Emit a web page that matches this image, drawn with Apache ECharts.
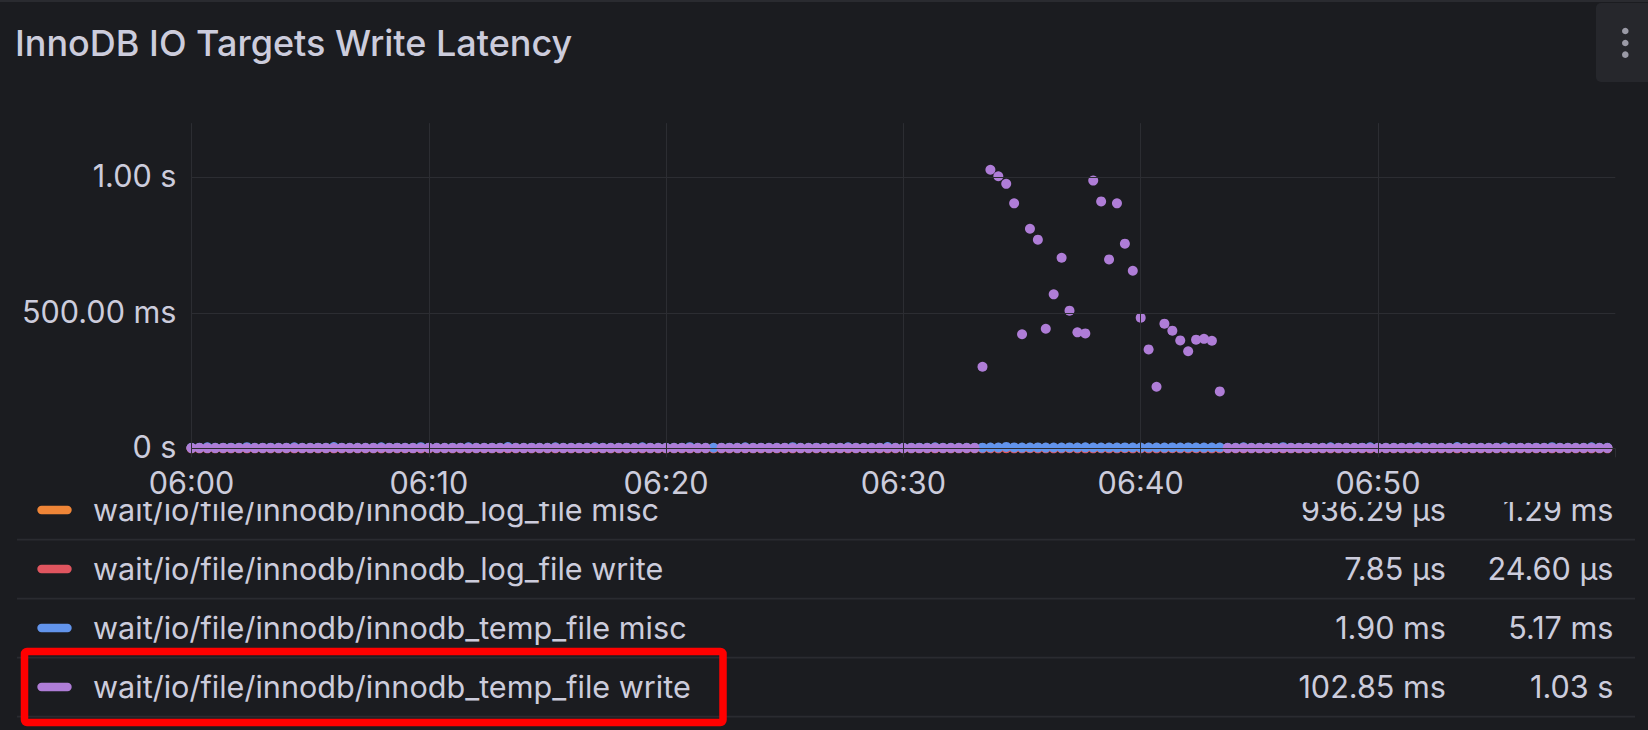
<!DOCTYPE html>
<html><head><meta charset="utf-8">
<script src="https://cdn.jsdelivr.net/npm/echarts@6/dist/echarts.min.js"></script>
<style>html,body{margin:0;padding:0;background:#1b1c20;}#chart{width:1648px;height:730px;}</style>
</head><body><div id="chart"></div>
<script>
// ---- axis / category data ----
const stepSeconds = 20;                 // sampling step of the series (06:00:00 start)
const xTickMinutes = [0, 10, 20, 30, 40, 50];
const xTickLabels = ['06:00', '06:10', '06:20', '06:30', '06:40', '06:50'];
const yTickValues = [0, 0.5, 1];
const yTickLabels = ['0 s', '500.00 ms', '1.00 s'];

// ---- legend ----
const seriesNames = [
  'wait/io/file/innodb/innodb_log_file misc',
  'wait/io/file/innodb/innodb_log_file write',
  'wait/io/file/innodb/innodb_temp_file misc',
  'wait/io/file/innodb/innodb_temp_file write'
];
const seriesColors = ['#ef8537', '#e0555f', '#6294ec', '#af7dd7'];
const legendMeans = ['936.29 µs', '7.85 µs', '1.90 ms', '102.85 ms'];
const legendMaxes = ['1.29 ms', '24.60 µs', '5.17 ms', '1.03 s'];

// ---- series values (one value per 20 s sample) ----
const logFileMiscUs = [
920,880,950,905,870,940,915,890,960,900,
875,930,910,885,945,900,865,935,920,895,
950,905,880,925,940,870,915,900,955,890,
910,935,875,920,900,945,885,930,905,870,
940,915,890,960,900,875,930,910,885,945,
900,865,935,920,895,950,905,880,925,940,
870,915,900,955,890,910,935,875,920,900,
945,885,930,905,870,940,915,890,960,900,
875,930,910,885,945,900,865,935,920,895,
950,905,880,925,940,870,915,900,955,890,
1120,1250,1180,1290,1210,1150,1230,1170,1260,1190,
1140,1220,1200,1160,1240,1185,1130,1215,1175,1255,
1195,1145,1225,1165,1205,1235,1155,1245,1190,1170,
1210,
910,935,875,920,900,945,885,930,905,870,
940,915,890,960,900,875,930,910,885,945,
900,865,935,920,895,950,905,880,925,940,
870,915,900,955,890,910,935,875,920,900,
945,885,930,905,870,940,915,890,960
];
const logFileWriteUs = [
7,6,9,8,5,7,10,6,8,7,
9,6,7,8,11,5,7,9,6,8,
7,10,6,8,7,9,5,8,7,6,
8,7,12,6,9,7,8,5,7,10,
6,8,9,7,6,8,7,11,6,7,
8,9,6,7,10,5,8,7,9,6,
7,8,6,9,7,12,6,8,7,9,
5,7,8,10,6,7,9,8,6,7,
8,6,9,7,11,6,8,7,9,5,
7,8,6,10,7,9,6,8,7,8,
14,18,12,24.6,16,11,19,13,15,17,
12,20,14,16,11,18,13,15,19,12,
16,14,17,13,21,15,12,18,14,16,
13,
7,8,6,9,7,10,6,8,7,9,
5,7,8,6,11,7,9,6,8,7,
10,6,8,7,9,5,7,8,6,9,
7,12,6,8,7,9,6,7,8,10,
6,7,9,8,5,7,8,6,9
];
const tempFileMiscMs = [
1.8,2.1,3.6,1.7,1.9,2.4,1.6,4.1,2.0,1.8,
2.2,1.7,1.9,3.8,2.0,1.6,2.3,1.8,4.4,1.9,
1.7,2.1,2.0,1.8,3.9,1.6,2.2,1.9,1.7,4.2,
2.0,1.8,1.6,2.3,1.9,3.7,1.8,2.1,1.7,2.0,
4.5,1.9,1.6,2.2,1.8,2.0,3.6,1.7,1.9,2.1,
1.8,4.0,1.6,2.0,1.9,2.2,1.7,3.8,1.8,2.0,
1.9,1.7,2.1,4.3,1.8,1.6,2.0,1.9,2.2,1.7,
3.9,1.8,2.0,1.6,2.1,1.9,4.1,1.7,1.8,2.2,
1.9,2.0,1.6,3.7,1.8,2.1,1.7,1.9,4.6,2.0,
1.8,1.6,2.2,1.9,3.8,1.7,2.0,1.8,2.1,1.9,
2.4,3.1,2.8,5.17,3.3,2.6,2.9,3.4,2.7,3.0,
2.5,3.2,2.8,3.6,2.9,2.6,3.1,2.7,3.3,2.8,
2.6,3.0,2.9,2.5,3.2,2.7,3.4,2.8,2.6,3.0,
2.9,
1.8,2.0,3.9,1.7,1.9,2.1,1.6,4.2,1.8,2.0,
2.2,1.7,1.9,3.6,2.0,1.8,1.6,2.3,4.0,1.9,
1.7,2.1,1.8,2.0,3.8,1.6,2.2,1.9,1.7,4.4,
2.0,1.8,1.9,2.1,1.7,3.7,1.8,2.0,1.6,2.2,
1.9,4.1,1.7,1.8,2.0,1.9,3.9,1.8,2.1
];
const tempFileWriteMs = [
1.1,1.3,0.9,1.2,1.4,1.0,1.2,1.1,0.8,1.3,
1.2,1.0,1.5,1.1,0.9,1.2,1.3,1.0,1.1,1.4,
1.2,0.9,1.1,1.3,1.0,1.2,1.5,1.1,0.9,1.2,
1.3,1.1,1.0,1.2,1.4,0.9,1.1,1.2,1.3,1.0,
1.2,1.1,0.9,1.4,1.2,1.0,1.3,1.1,1.2,0.9,
1.1,1.3,1.0,1.2,1.4,1.1,0.9,1.2,1.3,1.0,
1.2,1.1,1.4,0.9,1.2,1.0,null,1.3,1.1,1.2,
0.9,1.2,1.4,1.0,1.1,1.3,1.2,0.9,1.1,1.2,
1.3,1.0,1.2,1.4,1.1,0.9,1.2,1.3,1.0,1.1,
1.2,1.4,0.9,1.1,1.3,1.2,1.0,1.2,1.1,1.3,
301,1028,1004,976,904,421,810,770,441,568,
703,508,428,424,988,911,697,904,755,655,
482,365,227,460,434,398,358,401,404,397,
210,
1.2,1.0,1.3,1.1,0.9,1.2,1.4,1.1,1.0,1.2,
1.3,0.9,1.1,1.2,1.4,1.0,1.1,1.3,1.2,0.9,
1.2,1.1,1.3,1.0,1.2,1.4,0.9,1.1,1.2,1.3,
1.0,1.2,1.1,0.9,1.3,1.2,1.0,1.4,1.1,1.2,
0.9,1.3,1.1,1.0,1.2,1.1,1.3,1.2,1.0
];

// ---- build ----
const TEXT = '#ccccdc';
const GRID = '#2c2d32';
const FONT = 'Inter, "Noto Sans", sans-serif';
const LABEL_SIZE = 30.6;

function toPoints(arr, toSeconds) {
  const pts = [];
  arr.forEach((v, i) => { if (v !== null) pts.push([i * stepSeconds / 60, v * toSeconds]); });
  return pts;
}
const seriesValues = [
  toPoints(logFileMiscUs, 1e-6),
  toPoints(logFileWriteUs, 1e-6),
  toPoints(tempFileMiscMs, 1e-3),
  toPoints(tempFileWriteMs, 1e-3)
];

const chart = echarts.init(document.getElementById('chart'), null, {renderer: 'svg'});

const graphics = [];
// panel top border
graphics.push({type: 'rect', shape: {x: 0, y: 0, width: 1648, height: 2}, style: {fill: '#2a2b30'}, silent: true});
// menu button
graphics.push({type: 'rect', shape: {x: 1596, y: 3, width: 70, height: 79, r: 5}, style: {fill: '#26272c'}, silent: true});
[31, 43, 54.7].forEach(cy => graphics.push({type: 'circle', shape: {cx: 1625.3, cy: cy, r: 3.3}, style: {fill: '#9a9aa6'}, silent: true}));
// title
graphics.push({type: 'text', x: 15, y: 43, style: {text: 'InnoDB IO Targets Write Latency', font: '500 36px ' + FONT, fill: TEXT, textAlign: 'left', textVerticalAlign: 'middle', align: 'left', verticalAlign: 'middle'}, silent: true});

// legend table rows
const rowTop = 510, rowStep = 59;
const legendFont = LABEL_SIZE + 'px ' + FONT;
function legendText(x, y, text, align) {
  return {type: 'text', z: 1, x: x, y: y, style: {text: text, font: legendFont, lineHeight: 24, fill: TEXT, textAlign: align, textVerticalAlign: 'middle', align: align, verticalAlign: 'middle'}, silent: true};
}
seriesNames.forEach((name, i) => {
  const cy = rowTop + rowStep * i;
  graphics.push({type: 'rect', z: 1, shape: {x: 37.3, y: cy - 4.2, width: 34.4, height: 8.4, r: 4.2}, style: {fill: seriesColors[i]}, silent: true});
  graphics.push(legendText(93, cy - 0.8, name, 'left'));
  graphics.push(legendText(1446, cy - 0.8, legendMeans[i], 'right'));
  graphics.push(legendText(1613.5, cy - 0.8, legendMaxes[i], 'right'));
  graphics.push({type: 'rect', z: 1, shape: {x: 17, y: cy + 28.7, width: 1618, height: 1.8}, style: {fill: '#2a2b30'}, silent: true});
});
// scroll clip of the legend container
graphics.push({type: 'rect', z: 3, shape: {x: 0, y: 496, width: 1648, height: 6}, style: {fill: '#1b1c20'}, silent: true});
// red highlight box
graphics.push({type: 'rect', z: 4, shape: {x: 24.5, y: 651.5, width: 698.5, height: 71, r: 2.5}, style: {fill: 'none', stroke: '#ff0000', lineWidth: 7.5}, silent: true});

const option = {
  backgroundColor: '#1b1c20',
  animation: false,
  textStyle: {fontFamily: FONT},
  grid: {left: 191.5, right: 32.7, top: 123.1, bottom: 281.7, containLabel: false},
  xAxis: {
    type: 'value', min: 0, max: 60, interval: 10, z: 10,
    axisLine: {show: false},
    axisTick: {show: true, length: 9, lineStyle: {color: GRID, width: 1}},
    axisLabel: {
      color: TEXT, fontSize: LABEL_SIZE, fontFamily: FONT, margin: 22.6, lineHeight: 24,
      formatter: v => { const k = xTickMinutes.indexOf(v); return k >= 0 ? xTickLabels[k] : ''; }
    },
    splitLine: {show: true, lineStyle: {color: [GRID, GRID, GRID, GRID, GRID, GRID, 'rgba(0,0,0,0)'], width: 1}}
  },
  yAxis: {
    type: 'value', min: 0, max: 1.2, interval: 0.5, z: 10,
    axisLine: {show: false},
    axisTick: {show: false},
    axisLabel: {
      color: TEXT, fontSize: LABEL_SIZE, fontFamily: FONT, margin: 15,
      verticalAlign: 'bottom', lineHeight: 3.6,
      formatter: v => { const k = yTickValues.indexOf(v); return k >= 0 ? yTickLabels[k] : ''; }
    },
    splitLine: {show: true, lineStyle: {color: [GRID, GRID, GRID, 'rgba(0,0,0,0)'], width: 1}}
  },
  series: seriesNames.map((name, i) => ({
    name: name, type: 'scatter', data: seriesValues[i],
    symbol: 'circle', symbolSize: 10,
    itemStyle: {color: seriesColors[i], opacity: 1},
    emphasis: {disabled: true}, silent: true, z: 2
  })),
  graphic: {elements: graphics}
};
chart.setOption(option);
</script></body></html>
